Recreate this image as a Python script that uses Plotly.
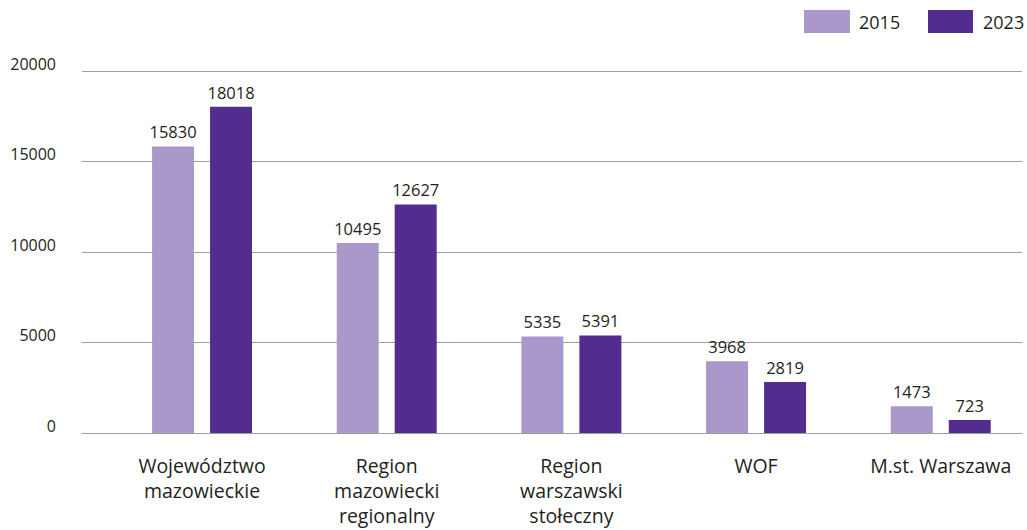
import plotly.graph_objects as go

categories = ["Województwo<br>mazowieckie", "Region<br>mazowiecki<br>regionalny",
              "Region<br>warszawski<br>stołeczny", "WOF", "M.st. Warszawa"]
values_2015 = [15830, 10495, 5335, 3968, 1473]
values_2023 = [18018, 12627, 5391, 2819, 723]
series_names = ["2015", "2023"]
y_ticks = [0, 5000, 10000, 15000, 20000]

C15 = "#a998c9"
C23 = "#522d8f"
TXT = "#231f20"
FONT = "Open Sans"

W, H = 1027, 530
ML, MR, MT, MB = 82, 5, 69, 97
PW = W - ML - MR
PH = H - MT - MB
YMAX = 20000 * (1 + 2.0 / 362)

fig = go.Figure()
for name, vals, col in [(series_names[0], values_2015, C15), (series_names[1], values_2023, C23)]:
    fig.add_trace(go.Bar(
        x=list(range(len(categories))), y=vals, name=name, marker_color=col,
        marker_line_width=0,
        text=[str(v) for v in vals], textposition="outside", constraintext="none",
        textfont=dict(family=FONT, size=16.5, color=TXT), cliponaxis=False,
        showlegend=False,
    ))

fig.update_layout(
    width=W, height=H, margin=dict(l=ML, r=MR, t=MT, b=MB, autoexpand=False),
    paper_bgcolor="white", plot_bgcolor="white",
    barmode="group", bargap=0.372, bargroupgap=0.276,
    font=dict(family=FONT, size=16, color=TXT),
    xaxis=dict(range=[-0.65, 4.44], tickvals=list(range(len(categories))),
               ticktext=categories, showgrid=False, zeroline=False, showline=False,
               ticks="", ticklabelstandoff=19, tickfont=dict(size=19.5), automargin=False),
    yaxis=dict(range=[0, YMAX], tickvals=y_ticks, ticktext=[str(t) for t in y_ticks],
               showgrid=True, gridcolor="#9d9d9d", gridwidth=1.3,
               zeroline=True, zerolinecolor="#9d9d9d", zerolinewidth=1.3,
               showline=False, ticks="", ticklabelstandoff=25, ticklabelshift=-7,
               tickfont=dict(size=16), automargin=False),
)

def px_x(x):
    return (x - ML) / PW

def px_y(y):
    return (H - MB - y) / PH

legend_items = [(series_names[0], C15, 804, 850, 857), (series_names[1], C23, 928, 973, 981)]
for name, col, x0, x1, tx in legend_items:
    fig.add_shape(type="rect", xref="paper", yref="paper",
                  x0=px_x(x0), x1=px_x(x1), y0=px_y(33), y1=px_y(10),
                  fillcolor=col, line_width=0)
    fig.add_annotation(xref="paper", yref="paper", x=px_x(tx), y=px_y(21.5),
                       text=name, showarrow=False, xanchor="left", yanchor="middle",
                       font=dict(family=FONT, size=18, color=TXT))

fig.write_html("out.html", config={"displayModeBar": False},
               post_script="document.body.style.margin='0';document.body.style.overflow='hidden';")
